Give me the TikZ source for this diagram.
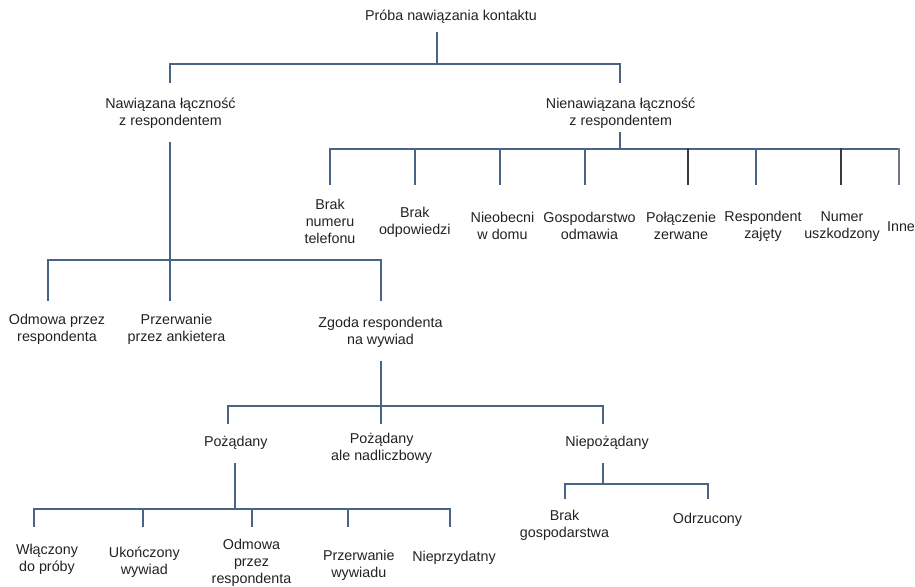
\documentclass[tikz,border=0pt]{standalone}
\usepackage{fontspec}
\setmainfont{Liberation Sans}
\definecolor{treeline}{HTML}{4A6485}
\definecolor{darkline}{HTML}{3A3A3A}
\definecolor{greyline}{HTML}{6E7688}
\definecolor{labeltext}{HTML}{222222}
\begin{document}
\begin{tikzpicture}[x=1pt,y=-1pt,
  lbl/.style={align=center,inner sep=0pt,text=labeltext,
    font=\fontsize{14.3}{17}\selectfont},
  tree/.style={draw=treeline,line width=1.7pt,line cap=rect},
  treedark/.style={tree,draw=darkline},
  treegrey/.style={tree,draw=greyline}]
\useasboundingbox (0,0) rectangle (915,586);

% ---------- labels ----------
\node[lbl] (root)  at (451,17)    {Próba nawiązania kontaktu};
\node[lbl] (naw)   at (170.5,113.5) {Nawiązana łączność\\z respondentem};
\node[lbl] (nienaw) at (620.7,113.5) {Nienawiązana łączność\\z respondentem};

\node[lbl] (bnt)  at (330,221.5)   {Brak\\numeru\\telefonu};
\node[lbl] (bodp) at (414.8,222)   {Brak\\odpowiedzi};
\node[lbl] (nieob) at (502.5,226.3) {Nieobecni\\w domu};
\node[lbl] (gosp) at (589.5,226.3) {Gospodarstwo\\odmawia};
\node[lbl] (polz) at (681,226.3)   {Połączenie\\zerwane};
\node[lbl] (resz) at (763,226.3)   {Respondent\\zajęty};
\node[lbl] (numu) at (842,226.3)   {Numer\\uszkodzony};
\node[lbl] (inne) at (901,226.7)   {Inne};

\node[lbl] (odm1) at (57,329)     {Odmowa przez\\respondenta};
\node[lbl] (przA) at (176.5,329)  {Przerwanie\\przez ankietera};
\node[lbl] (zgoda) at (380.5,332) {Zgoda respondenta\\na wywiad};

\node[lbl] (poz)  at (235.8,443)   {Pożądany};
\node[lbl] (pozn) at (381.7,448.3) {Pożądany\\ale nadliczbowy};
\node[lbl] (niep) at (607,443)     {Niepożądany};

\node[lbl] (wlacz) at (47,559)     {Włączony\\do próby};
\node[lbl] (ukon)  at (144.3,562.7) {Ukończony\\wywiad};
\node[lbl] (odm2)  at (251.5,562.7) {Odmowa\\przez\\respondenta};
\node[lbl] (przW)  at (358.8,565)  {Przerwanie\\wywiadu};
\node[lbl] (nprz)  at (454,557.3)  {Nieprzydatny};

\node[lbl] (bgosp) at (564.5,525.3) {Brak\\gospodarstwa};
\node[lbl] (odrz)  at (707.5,520)   {Odrzucony};

% ---------- connector end points ----------
\coordinate (root-o) at (437,33);   \coordinate (bus0) at (0,64);
\coordinate (naw-i) at (170,82);    \coordinate (nienaw-i) at (620,82);

\coordinate (naw-o) at (170,143);   \coordinate (bus1) at (0,260);
\coordinate (odm1-i) at (48,300);   \coordinate (przA-i) at (170,300);
\coordinate (zgoda-i) at (381,300);

\coordinate (nienaw-o) at (620,133); \coordinate (bus2) at (0,149);
\coordinate (bnt-i) at (330,184);   \coordinate (bodp-i) at (415,184);
\coordinate (nieob-i) at (500.3,184); \coordinate (gosp-i) at (585.3,184);
\coordinate (polz-i) at (687.7,184); \coordinate (resz-i) at (755.7,184);
\coordinate (numu-i) at (841,184);  \coordinate (inne-i) at (898.7,184);

\coordinate (zgoda-o) at (381,362); \coordinate (bus3) at (0,406);
\coordinate (poz-i) at (228,423);   \coordinate (pozn-i) at (381,423);
\coordinate (niep-i) at (603,423);

\coordinate (poz-o) at (235,464);   \coordinate (bus4) at (0,509);
\coordinate (wlacz-i) at (34,526);  \coordinate (ukon-i) at (143,526);
\coordinate (odm2-i) at (252,526);  \coordinate (przW-i) at (348,526);
\coordinate (nprz-i) at (450,526);

\coordinate (niep-o) at (603,464);  \coordinate (bus5) at (0,484);
\coordinate (bgosp-i) at (565,498); \coordinate (odrz-i) at (708,498);

% ---------- connectors ----------
% root
\draw[tree] (root-o) -- (root-o |- bus0);
\draw[tree] (naw-i) -- (naw-i |- bus0) -- (nienaw-i |- bus0) -- (nienaw-i);

% contact established
\draw[tree] (naw-o) -- (przA-i);
\draw[tree] (odm1-i) -- (odm1-i |- bus1) -- (zgoda-i |- bus1) -- (zgoda-i);

% no contact
\draw[tree] (nienaw-o) -- (nienaw-o |- bus2);
\draw[tree] (bnt-i) -- (bnt-i |- bus2) -- (inne-i |- bus2);
\draw[treegrey] (inne-i |- bus2) -- (inne-i);
\foreach \c in {bodp-i,nieob-i,gosp-i,resz-i}
  \draw[tree] (\c) -- (\c |- bus2);
\foreach \c in {polz-i,numu-i}
  \draw[treedark] (\c) -- (\c |- bus2);

% consent
\draw[tree] (zgoda-o) -- (pozn-i);
\draw[tree] (poz-i) -- (poz-i |- bus3) -- (niep-i |- bus3) -- (niep-i);

% wanted
\draw[tree] (poz-o) -- (poz-o |- bus4);
\draw[tree] (wlacz-i) -- (wlacz-i |- bus4) -- (nprz-i |- bus4) -- (nprz-i);
\foreach \c in {ukon-i,odm2-i,przW-i}
  \draw[tree] (\c) -- (\c |- bus4);

% unwanted
\draw[tree] (niep-o) -- (niep-o |- bus5);
\draw[tree] (bgosp-i) -- (bgosp-i |- bus5) -- (odrz-i |- bus5) -- (odrz-i);
\end{tikzpicture}
\end{document}
